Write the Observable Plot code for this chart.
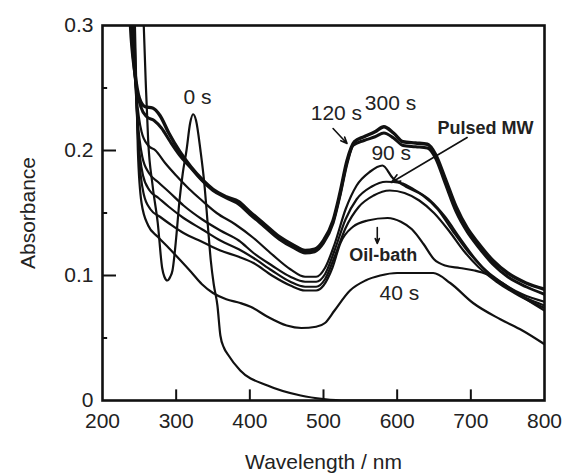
<!DOCTYPE html>
<html><head><meta charset="utf-8">
<script src="https://cdn.jsdelivr.net/npm/d3@7"></script>
<script src="https://cdn.jsdelivr.net/npm/@observablehq/plot@0.6"></script>
<style>body{margin:0;background:#fff}</style>
</head><body><div id="chart"></div>
<script>
// ---- data (wavelength nm, absorbance) ----
const xTicks = [200, 300, 400, 500, 600, 700, 800];
const yTicks = [0, 0.1, 0.2, 0.3];
const yMinor = [0.05, 0.15, 0.25];

const s300 = [[232,0.40],[238,0.30],[244,0.262],[250,0.242],[258,0.235],[268,0.234],[278,0.228],[290,0.214],[305,0.199],[320,0.187],[335,0.177],[350,0.169],[368,0.163],[385,0.159],[400,0.151],[420,0.141],[440,0.131],[460,0.124],[475,0.120],[488,0.121],[500,0.128],[513,0.144],[522,0.165],[532,0.192],[542,0.207],[555,0.211],[570,0.215],[582,0.219],[595,0.214],[608,0.207],[625,0.206],[641,0.205],[652,0.197],[665,0.178],[680,0.155],[695,0.138],[710,0.126],[730,0.112],[750,0.102],[775,0.094],[800,0.089]];
const s120 = [[233,0.40],[239,0.30],[245,0.255],[252,0.235],[260,0.227],[270,0.224],[280,0.218],[292,0.207],[305,0.196],[320,0.186],[335,0.176],[350,0.168],[368,0.162],[385,0.157],[400,0.149],[420,0.139],[440,0.129],[460,0.122],[475,0.118],[488,0.119],[500,0.126],[513,0.142],[522,0.163],[532,0.190],[540,0.204],[555,0.208],[570,0.211],[582,0.214],[595,0.210],[608,0.204],[625,0.203],[641,0.202],[652,0.194],[665,0.174],[680,0.151],[695,0.135],[710,0.123],[730,0.109],[750,0.099],[775,0.091],[800,0.085]];
const s90 = [[234,0.40],[240,0.30],[246,0.245],[253,0.215],[262,0.204],[272,0.200],[285,0.190],[300,0.180],[318,0.169],[335,0.160],[355,0.150],[380,0.141],[405,0.130],[430,0.117],[455,0.105],[475,0.099],[490,0.099],[502,0.106],[515,0.125],[530,0.153],[545,0.172],[563,0.183],[580,0.188],[594,0.178],[612,0.171],[635,0.164],[655,0.153],[675,0.136],[695,0.120],[715,0.107],[740,0.095],[770,0.085],[800,0.079]];
const sPulsed = [[235,0.40],[241,0.30],[247,0.230],[254,0.195],[263,0.182],[275,0.175],[290,0.167],[310,0.156],[335,0.145],[360,0.136],[385,0.128],[405,0.118],[430,0.108],[455,0.099],[475,0.095],[490,0.095],[502,0.101],[515,0.120],[530,0.145],[545,0.161],[565,0.171],[585,0.175],[605,0.174],[625,0.168],[645,0.160],[665,0.147],[685,0.130],[705,0.114],[725,0.101],[750,0.090],[775,0.082],[800,0.076]];
const sOther = [[236,0.40],[242,0.30],[248,0.215],[255,0.180],[264,0.168],[276,0.162],[290,0.155],[310,0.146],[335,0.137],[360,0.128],[385,0.121],[405,0.114],[430,0.104],[455,0.095],[475,0.091],[490,0.091],[502,0.097],[515,0.115],[530,0.138],[548,0.155],[568,0.164],[590,0.168],[610,0.166],[630,0.160],[650,0.150],[670,0.136],[690,0.120],[710,0.107],[735,0.095],[765,0.084],[800,0.074]];
const sOil = [[237,0.40],[243,0.30],[249,0.200],[256,0.165],[265,0.153],[278,0.147],[292,0.141],[310,0.134],[335,0.127],[360,0.120],[385,0.115],[405,0.110],[430,0.100],[455,0.092],[475,0.088],[490,0.088],[500,0.092],[512,0.106],[523,0.126],[540,0.139],[560,0.144],[587,0.146],[605,0.143],[620,0.137],[636,0.125],[650,0.113],[665,0.108],[685,0.106],[705,0.104],[722,0.101],[740,0.095],[770,0.083],[800,0.072]];
const s40 = [[238,0.40],[244,0.30],[248,0.200],[253,0.158],[262,0.140],[275,0.131],[290,0.122],[306,0.112],[320,0.103],[335,0.093],[350,0.086],[368,0.081],[387,0.078],[401,0.075],[424,0.067],[450,0.060],[470,0.058],[490,0.059],[502,0.062],[515,0.072],[536,0.088],[557,0.096],[577,0.100],[600,0.102],[625,0.102],[649,0.102],[672,0.094],[703,0.078],[740,0.065],[770,0.056],[800,0.045]];
const s0 = [[252,0.40],[256,0.30],[259,0.250],[262,0.208],[268,0.172],[275,0.142],[281,0.106],[284,0.099],[288,0.096],[292,0.099],[295,0.104],[300,0.130],[304.5,0.160],[309,0.182],[314,0.200],[319,0.222],[323,0.229],[327,0.224],[333,0.200],[338,0.175],[343,0.140],[347,0.112],[351,0.093],[356,0.076],[360,0.052],[365,0.042],[370,0.037],[387,0.024],[424,0.012],[469,0.004],[500,0.0012],[530,0],[800,0]];

const labelText = ["0 s", "120 s", "300 s", "90 s", "Pulsed MW", "Oil-bath", "40 s"];
const labelNm   = [329, 517.5, 591, 592, 720, 581, 603];
const labelAbs  = [0.2424, 0.2296, 0.2376, 0.1976, 0.2176, 0.116, 0.0856];
const labelBold = [false, false, false, false, true, true, false];

const arrowNm1  = [513, 695, 573];
const arrowAbs1 = [0.2176, 0.2104, 0.1384];
const arrowNm2  = [532, 592, 573];
const arrowAbs2 = [0.2056, 0.1744, 0.1256];

// ---- build ----
const curves = [
  {d: s300, w: 3.4}, {d: s120, w: 3.0}, {d: s90, w: 2.2}, {d: sPulsed, w: 2.2},
  {d: sOther, w: 2.2}, {d: sOil, w: 2.2}, {d: s40, w: 2.2}, {d: s0, w: 2.2}
];
const labels = labelText.map((t, i) => ({t, x: labelNm[i], y: labelAbs[i], b: labelBold[i]}));
const arrows = arrowNm1.map((x1, i) => ({x1, y1: arrowAbs1[i], x2: arrowNm2[i], y2: arrowAbs2[i]}));

const chart = Plot.plot({
  width: 566, height: 476,
  marginLeft: 102, marginRight: 22, marginTop: 25, marginBottom: 76,
  style: {fontFamily: "'Liberation Sans', Arial, sans-serif", fontSize: "21px", color: "#222", background: "#fff"},
  x: {domain: [200, 800], ticks: xTicks, tickSize: 0, tickPadding: 13, tickFormat: d => String(d),
      label: "Wavelength / nm", labelAnchor: "center", labelOffset: 68, labelArrow: "none"},
  y: {domain: [0, 0.3], ticks: yTicks, tickSize: 0, tickPadding: 9, tickFormat: d => d === 0 ? "0" : d.toFixed(1),
      label: "Absorbance", labelAnchor: "center", labelOffset: 82, labelArrow: "none"},
  marks: [
    ...curves.map(c => Plot.line(c.d, {x: d => d[0], y: d => d[1], curve: "monotone-x",
      stroke: "#111", strokeWidth: c.w, strokeLinejoin: "round", clip: true})),
    Plot.ruleX(xTicks.slice(1, -1), {x: d => d, y1: 0, y2: 0.0085, stroke: "#111", strokeWidth: 2}),
    Plot.ruleY(yTicks.slice(1, -1), {y: d => d, x1: 200, x2: 219, stroke: "#111", strokeWidth: 2}),
    Plot.ruleY(yMinor, {y: d => d, x1: 200, x2: 207, stroke: "#111", strokeWidth: 2}),
    Plot.frame({stroke: "#111", strokeWidth: 2.6}),
    Plot.arrow(arrows, {x1: "x1", y1: "y1", x2: "x2", y2: "y2", stroke: "#111", strokeWidth: 1.6, headLength: 9, headAngle: 45}),
    Plot.text(labels.filter(d => !d.b), {x: "x", y: "y", text: "t", fontSize: 21, fill: "#222", textAnchor: "middle", lineAnchor: "middle"}),
    Plot.text(labels.filter(d => d.b), {x: "x", y: "y", text: "t", fontSize: 18, fontWeight: "bold", fill: "#222", textAnchor: "middle", lineAnchor: "middle"})
  ]
});
document.getElementById("chart").appendChild(chart);
</script>
</body></html>
